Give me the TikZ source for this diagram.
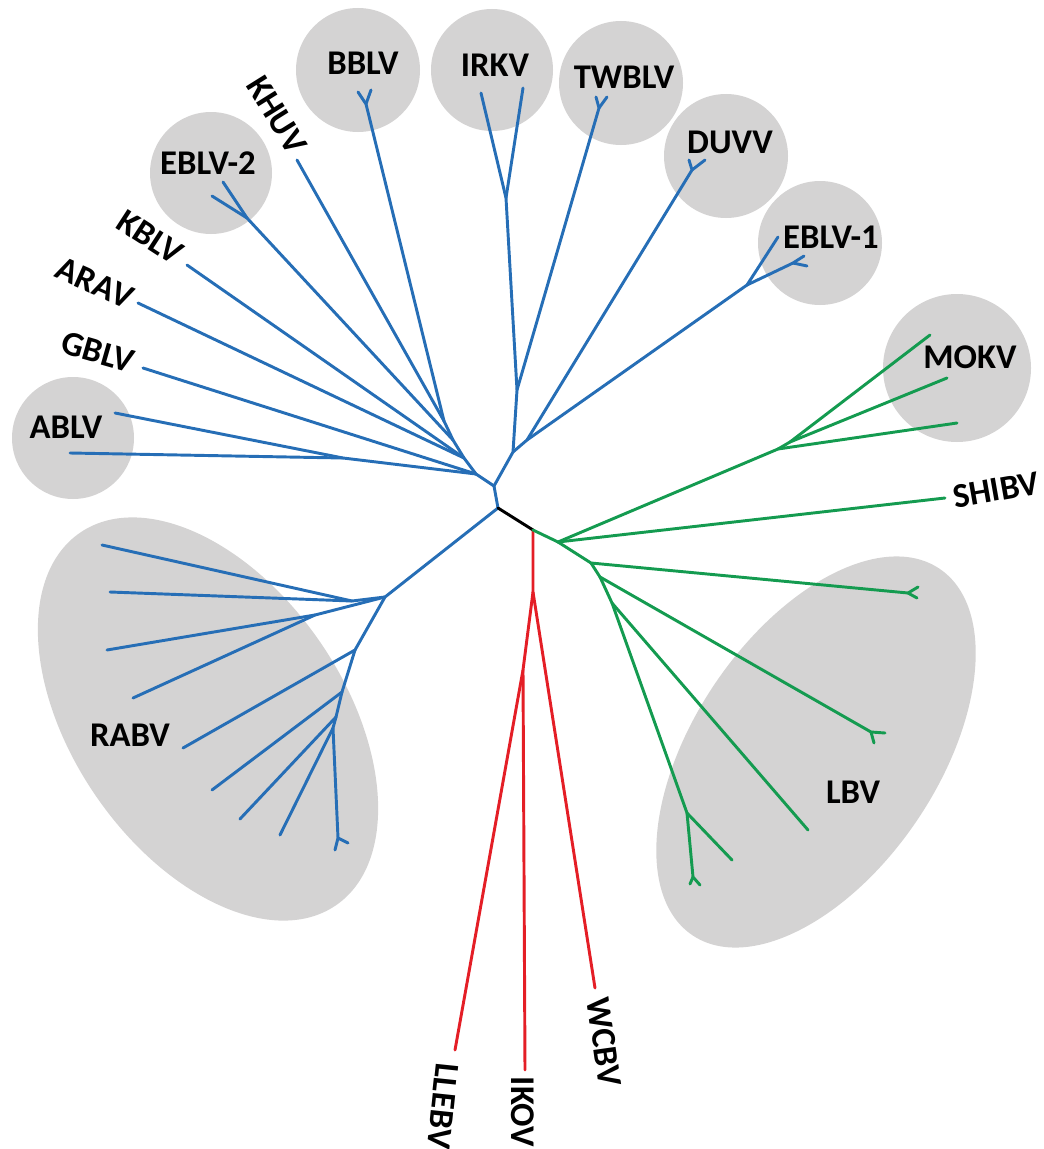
\documentclass[tikz,border=0pt]{standalone}
\usepackage{fontspec}
\setmainfont{Carlito}
\definecolor{lyblue}{RGB}{38,110,182}
\definecolor{lygreen}{RGB}{20,155,80}
\definecolor{lyred}{RGB}{228,30,38}
\definecolor{lygray}{RGB}{212,211,211}
\begin{document}
\begin{tikzpicture}[x=0.75pt,y=-0.75pt,
  blob/.style={fill=lygray},
  edge/.style={line width=2.2pt,line cap=round,line join=round},
  bl/.style={edge,draw=lyblue},
  gr/.style={edge,draw=lygreen},
  rd/.style={edge,draw=lyred},
  rt/.style={edge,draw=black},
  lbl/.style={font=\fontsize{26}{31}\selectfont\bfseries,inner sep=0pt,text=black}]
\useasboundingbox (0,0) rectangle (1043,1149);

% ---- clade backgrounds ----
\fill[blob] (358,70) circle[radius=62];
\fill[blob] (492,70) circle[radius=61];
\fill[blob] (621,83) circle[radius=62];
\fill[blob] (726,156) circle[radius=62];
\fill[blob] (820,243) circle[radius=62];
\fill[blob] (957,368) circle[radius=74];
\fill[blob] (211,173) circle[radius=61];
\fill[blob] (73,438) circle[radius=61];
\fill[blob,rotate around={-55.5:(208,719)}] (208,719) ellipse[x radius=226,y radius=136];
\fill[blob,rotate around={56:(816,752)}] (816,752) ellipse[x radius=221,y radius=122];

% ---- tree points ----
% root region
\coordinate (B0) at (498,508);
\coordinate (K) at (533,530);
% phylogroup I (blue)
\coordinate (BU) at (494,486);
\coordinate (BL1) at (476,474);
\coordinate (BL2) at (464,458);
\coordinate (BL3) at (453,440);
\coordinate (BL4) at (444,421);
\coordinate (BR1) at (513,452);
\coordinate (BR2) at (527,440);
\coordinate (IT) at (517,390);
\coordinate (irkj) at (506,198);
\coordinate (irka) at (481,93);
\coordinate (irkb) at (523,88);
\coordinate (twj) at (599,108);
\coordinate (tw1) at (596,97);
\coordinate (tw2) at (607,97);
\coordinate (duj) at (692,170);
\coordinate (du1) at (689,160);
\coordinate (du2) at (705,160);
\coordinate (e1j) at (747,285);
\coordinate (e1a) at (778,237);
\coordinate (e1s) at (793,263);
\coordinate (e1b) at (804,256);
\coordinate (e1c) at (807,266);
\coordinate (bbj) at (366,104);
\coordinate (bb1) at (358,92);
\coordinate (bb2) at (371,90);
\coordinate (khuv) at (297,160);
\coordinate (e2j) at (247,218);
\coordinate (e2a) at (223,182);
\coordinate (e2b) at (212,196);
\coordinate (kblv) at (187,265);
\coordinate (arav) at (138,303);
\coordinate (gblv) at (143,368);
\coordinate (abj) at (343,458);
\coordinate (ab1) at (115,413);
\coordinate (ab2) at (70,453);
% RABV
\coordinate (RJ1) at (385,597);
\coordinate (RJa) at (352,601);
\coordinate (RJb) at (315,615);
\coordinate (r1) at (102,545);
\coordinate (r2) at (110,592);
\coordinate (r3) at (107,650);
\coordinate (r4) at (133,698);
\coordinate (RJ2) at (355,650);
\coordinate (r5) at (183,748);
\coordinate (RJ3) at (342,692);
\coordinate (r6) at (212,790);
\coordinate (RJ4) at (336,717);
\coordinate (r7) at (240,819);
\coordinate (RJ5) at (333,728);
\coordinate (r8) at (280,835);
\coordinate (RJ6) at (338,838);
\coordinate (r9a) at (335,850);
\coordinate (r9b) at (348,843);
% phylogroup III (red)
\coordinate (Rr1) at (533,592);
\coordinate (Rr2) at (523,670);
\coordinate (wcbv) at (595,988);
\coordinate (llebv) at (455,1050);
\coordinate (ikov) at (525,1070);
% phylogroup II (green)
\coordinate (G1) at (558,542);
\coordinate (MJ1) at (778,449);
\coordinate (MJ2) at (790,442);
\coordinate (m1) at (930,335);
\coordinate (m2) at (947,378);
\coordinate (m3) at (957,423);
\coordinate (shibv) at (945,498);
\coordinate (G2) at (591,563);
\coordinate (lb1j) at (908,593);
\coordinate (lb1a) at (918,587);
\coordinate (lb1b) at (917,598);
\coordinate (G3) at (600,577);
\coordinate (lb2j) at (871,732);
\coordinate (lb2a) at (885,733);
\coordinate (lb2b) at (874,743);
\coordinate (G4) at (612,603);
\coordinate (lb3) at (808,830);
\coordinate (G5) at (687,813);
\coordinate (lb4) at (732,860);
\coordinate (lb5j) at (693,877);
\coordinate (lb5a) at (700,885);
\coordinate (lb5b) at (690,884);

% ---- branches ----
\draw[bl] (B0) -- (BU) -- (BL1) -- (BL2) -- (BL3) -- (BL4) -- (bbj) -- (bb1);
\draw[bl] (bbj) -- (bb2);
\draw[bl] (BL4) -- (khuv);
\draw[bl] (BL3) -- (e2j) -- (e2a);
\draw[bl] (e2j) -- (e2b);
\draw[bl] (BL2) -- (kblv);
\draw[bl] (BL2) -- (arav);
\draw[bl] (BL1) -- (gblv);
\draw[bl] (BL1) -- (abj) -- (ab1);
\draw[bl] (abj) -- (ab2);
\draw[bl] (BU) -- (BR1) -- (IT) -- (irkj) -- (irka);
\draw[bl] (irkj) -- (irkb);
\draw[bl] (IT) -- (twj) -- (tw1);
\draw[bl] (twj) -- (tw2);
\draw[bl] (BR1) -- (BR2) -- (duj) -- (du1);
\draw[bl] (duj) -- (du2);
\draw[bl] (BR2) -- (e1j) -- (e1a);
\draw[bl] (e1j) -- (e1s) -- (e1b);
\draw[bl] (e1s) -- (e1c);

\draw[bl] (B0) -- (RJ1) -- (RJa) -- (r1);
\draw[bl] (RJa) -- (r2);
\draw[bl] (RJ1) -- (RJb) -- (r3);
\draw[bl] (RJb) -- (r4);
\draw[bl] (RJ1) -- (RJ2) -- (r5);
\draw[bl] (RJ2) -- (RJ3) -- (r6);
\draw[bl] (RJ3) -- (RJ4) -- (r7);
\draw[bl] (RJ4) -- (RJ5) -- (r8);
\draw[bl] (RJ5) -- (RJ6) -- (r9a);
\draw[bl] (RJ6) -- (r9b);

\draw[rt] (B0) -- (K);

\draw[rd] (K) -- (Rr1) -- (wcbv);
\draw[rd] (Rr1) -- (Rr2) -- (llebv);
\draw[rd] (Rr2) -- (ikov);

\draw[gr] (K) -- (G1) -- (MJ1) -- (m3);
\draw[gr] (MJ1) -- (MJ2) -- (m1);
\draw[gr] (MJ2) -- (m2);
\draw[gr] (G1) -- (shibv);
\draw[gr] (G1) -- (G2) -- (lb1j) -- (lb1a);
\draw[gr] (lb1j) -- (lb1b);
\draw[gr] (G2) -- (G3) -- (lb2j) -- (lb2a);
\draw[gr] (lb2j) -- (lb2b);
\draw[gr] (G3) -- (G4) -- (lb3);
\draw[gr] (G4) -- (G5) -- (lb4);
\draw[gr] (G5) -- (lb5j) -- (lb5a);
\draw[gr] (lb5j) -- (lb5b);

% ---- labels ----
\node[lbl] (nBBLV) at (363,63) {BBLV};
\node[lbl] (nIRKV) at (495,65) {IRKV};
\node[lbl] (nTWBLV) at (624,77) {TWBLV};
\node[lbl] (nDUVV) at (730,142) {DUVV};
\node[lbl] (nEBLV1) at (831,237) {EBLV-1};
\node[lbl] (nMOKV) at (970,357) {MOKV};
\node[lbl] (nEBLV2) at (208,163) {EBLV-2};
\node[lbl] (nABLV) at (66,427) {ABLV};
\node[lbl] (nRABV) at (130,735) {RABV};
\node[lbl] (nLBV) at (853,792) {LBV};
\node[lbl,rotate=10] (nSHIBV) at (996,490) {SHIBV};
\node[lbl,rotate=-58] (nKHUV) at (277,115) {KHUV};
\node[lbl,rotate=-33] (nKBLV) at (150,237) {KBLV};
\node[lbl,rotate=-24] (nARAV) at (95,283) {ARAV};
\node[lbl,rotate=-16] (nGBLV) at (98,352) {GBLV};
\node[lbl,rotate=-96] (nLLEBV) at (443,1106) {LLEBV};
\node[lbl,rotate=-90] (nIKOV) at (523,1112) {IKOV};
\node[lbl,rotate=-82] (nWCBV) at (604,1042) {WCBV};
\end{tikzpicture}
\end{document}
